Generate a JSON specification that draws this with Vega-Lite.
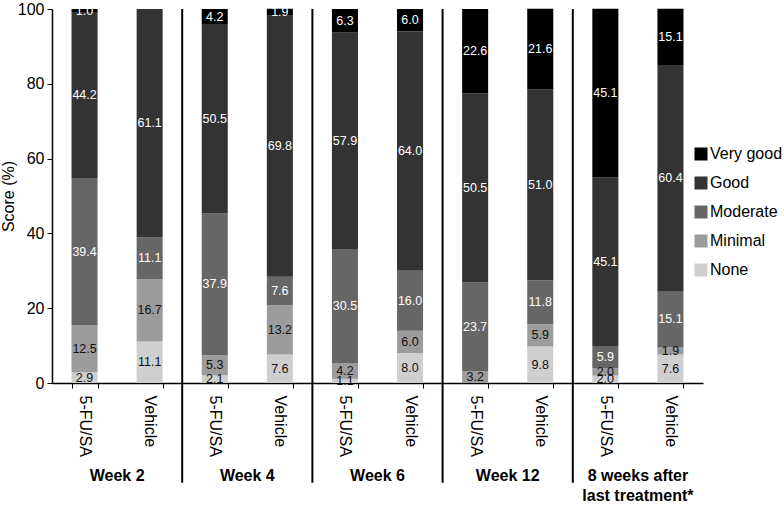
{
  "$schema": "https://vega.github.io/schema/vega-lite/v6.json",
  "width": 651,
  "height": 374,
  "autosize": {"type": "none"},
  "padding": {"left": 52, "top": 9, "right": 81, "bottom": 123},
  "config": {"font": "Liberation Sans", "view": {"stroke": null}},
  "datasets": {
    "scores": [
      {"group": "Week 2", "treat": "5-FU/SA", "cat": "None", "value": 2.9},
      {"group": "Week 2", "treat": "5-FU/SA", "cat": "Minimal", "value": 12.5},
      {"group": "Week 2", "treat": "5-FU/SA", "cat": "Moderate", "value": 39.4},
      {"group": "Week 2", "treat": "5-FU/SA", "cat": "Good", "value": 44.2},
      {"group": "Week 2", "treat": "5-FU/SA", "cat": "Very good", "value": 1.0},
      {"group": "Week 2", "treat": "Vehicle", "cat": "None", "value": 11.1},
      {"group": "Week 2", "treat": "Vehicle", "cat": "Minimal", "value": 16.7},
      {"group": "Week 2", "treat": "Vehicle", "cat": "Moderate", "value": 11.1},
      {"group": "Week 2", "treat": "Vehicle", "cat": "Good", "value": 61.1},
      {"group": "Week 4", "treat": "5-FU/SA", "cat": "None", "value": 2.1},
      {"group": "Week 4", "treat": "5-FU/SA", "cat": "Minimal", "value": 5.3},
      {"group": "Week 4", "treat": "5-FU/SA", "cat": "Moderate", "value": 37.9},
      {"group": "Week 4", "treat": "5-FU/SA", "cat": "Good", "value": 50.5},
      {"group": "Week 4", "treat": "5-FU/SA", "cat": "Very good", "value": 4.2},
      {"group": "Week 4", "treat": "Vehicle", "cat": "None", "value": 7.6},
      {"group": "Week 4", "treat": "Vehicle", "cat": "Minimal", "value": 13.2},
      {"group": "Week 4", "treat": "Vehicle", "cat": "Moderate", "value": 7.6},
      {"group": "Week 4", "treat": "Vehicle", "cat": "Good", "value": 69.8},
      {"group": "Week 4", "treat": "Vehicle", "cat": "Very good", "value": 1.9},
      {"group": "Week 6", "treat": "5-FU/SA", "cat": "None", "value": 1.1},
      {"group": "Week 6", "treat": "5-FU/SA", "cat": "Minimal", "value": 4.2},
      {"group": "Week 6", "treat": "5-FU/SA", "cat": "Moderate", "value": 30.5},
      {"group": "Week 6", "treat": "5-FU/SA", "cat": "Good", "value": 57.9},
      {"group": "Week 6", "treat": "5-FU/SA", "cat": "Very good", "value": 6.3},
      {"group": "Week 6", "treat": "Vehicle", "cat": "None", "value": 8.0},
      {"group": "Week 6", "treat": "Vehicle", "cat": "Minimal", "value": 6.0},
      {"group": "Week 6", "treat": "Vehicle", "cat": "Moderate", "value": 16.0},
      {"group": "Week 6", "treat": "Vehicle", "cat": "Good", "value": 64.0},
      {"group": "Week 6", "treat": "Vehicle", "cat": "Very good", "value": 6.0},
      {"group": "Week 12", "treat": "5-FU/SA", "cat": "Minimal", "value": 3.2},
      {"group": "Week 12", "treat": "5-FU/SA", "cat": "Moderate", "value": 23.7},
      {"group": "Week 12", "treat": "5-FU/SA", "cat": "Good", "value": 50.5},
      {"group": "Week 12", "treat": "5-FU/SA", "cat": "Very good", "value": 22.6},
      {"group": "Week 12", "treat": "Vehicle", "cat": "None", "value": 9.8},
      {"group": "Week 12", "treat": "Vehicle", "cat": "Minimal", "value": 5.9},
      {"group": "Week 12", "treat": "Vehicle", "cat": "Moderate", "value": 11.8},
      {"group": "Week 12", "treat": "Vehicle", "cat": "Good", "value": 51.0},
      {"group": "Week 12", "treat": "Vehicle", "cat": "Very good", "value": 21.6},
      {"group": "8wk", "treat": "5-FU/SA", "cat": "None", "value": 2.0},
      {"group": "8wk", "treat": "5-FU/SA", "cat": "Minimal", "value": 2.0},
      {"group": "8wk", "treat": "5-FU/SA", "cat": "Moderate", "value": 5.9},
      {"group": "8wk", "treat": "5-FU/SA", "cat": "Good", "value": 45.1},
      {"group": "8wk", "treat": "5-FU/SA", "cat": "Very good", "value": 45.1},
      {"group": "8wk", "treat": "Vehicle", "cat": "None", "value": 7.6},
      {"group": "8wk", "treat": "Vehicle", "cat": "Minimal", "value": 1.9},
      {"group": "8wk", "treat": "Vehicle", "cat": "Moderate", "value": 15.1},
      {"group": "8wk", "treat": "Vehicle", "cat": "Good", "value": 60.4},
      {"group": "8wk", "treat": "Vehicle", "cat": "Very good", "value": 15.1}
    ],
    "groups": [
      {"group": "Week 2", "label": "Week 2"},
      {"group": "Week 4", "label": "Week 4"},
      {"group": "Week 6", "label": "Week 6"},
      {"group": "Week 12", "label": "Week 12"},
      {"group": "8wk", "label": "8 weeks after\nlast treatment*"}
    ]
  },
  "layer": [
    {
      "data": {"name": "scores"},
      "transform": [
        {"calculate": "datum.group + '|' + datum.treat", "as": "bar"},
        {"calculate": "indexof(['None','Minimal','Moderate','Good','Very good'], datum.cat)", "as": "ord"}
      ],
      "layer": [
        {
          "mark": {"type": "bar"},
          "encoding": {
            "x": {
              "field": "bar",
              "type": "nominal",
              "title": null,
              "scale": {
                "domain": ["Week 2|5-FU/SA", "Week 2|Vehicle", "Week 4|5-FU/SA", "Week 4|Vehicle", "Week 6|5-FU/SA", "Week 6|Vehicle", "Week 12|5-FU/SA", "Week 12|Vehicle", "8wk|5-FU/SA", "8wk|Vehicle"],
                "paddingInner": 0.6,
                "paddingOuter": 0.3
              },
              "axis": {
                "labelExpr": "split(datum.value, '|')[1]",
                "labelAngle": 90,
                "labelFontSize": 16,
                "labelColor": "#000",
                "labelPadding": 7,
                "tickBand": "extent",
                "tickSize": 5,
                "tickColor": "#000",
                "domainColor": "#000",
                "domainWidth": 1.5,
                "grid": false
              }
            },
            "y": {
              "field": "value",
              "type": "quantitative",
              "stack": "zero",
              "title": "Score (%)",
              "scale": {"domain": [0, 100], "nice": false},
              "axis": {
                "values": [0, 20, 40, 60, 80, 100],
                "grid": false,
                "tickSize": 5,
                "tickColor": "#000",
                "domainColor": "#000",
                "domainWidth": 1.5,
                "labelFontSize": 16,
                "labelColor": "#000",
                "labelPadding": 3,
                "titleFontSize": 16,
                "titleFontWeight": "normal",
                "titleColor": "#000",
                "titlePadding": 1
              }
            },
            "order": {"field": "ord", "type": "quantitative"},
            "color": {
              "field": "cat",
              "type": "nominal",
              "scale": {
                "domain": ["Very good", "Good", "Moderate", "Minimal", "None"],
                "range": ["#000000", "#333333", "#666666", "#9c9c9c", "#cfcfcf"]
              },
              "legend": {
                "title": null,
                "orient": "none",
                "legendX": 641,
                "legendY": 137,
                "labelFontSize": 16,
                "labelColor": "#000",
                "symbolType": "square",
                "symbolSize": 169,
                "symbolStrokeWidth": 0,
                "rowPadding": 13,
                "labelOffset": 1,
                "padding": 0
              }
            }
          }
        },
        {
          "transform": [
            {"stack": "value", "groupby": ["bar"], "sort": [{"field": "ord", "order": "ascending"}], "as": ["v0", "v1"]},
            {"calculate": "(datum.v0 + datum.v1) / 2", "as": "mid"}
          ],
          "mark": {"type": "text", "fontSize": 12.5, "align": "center", "baseline": "middle"},
          "encoding": {
            "x": {"field": "bar", "type": "nominal", "title": null},
            "y": {"field": "mid", "type": "quantitative", "title": "Score (%)"},
            "text": {"field": "value", "type": "quantitative", "format": ".1f"},
            "color": {
              "condition": {"test": "datum.cat == 'Minimal' || datum.cat == 'None'", "value": "#111111"},
              "value": "#ffffff"
            }
          }
        }
      ]
    },
    {
      "data": {"name": "groups"},
      "transform": [
        {"calculate": "datum.group + '|5-FU/SA'", "as": "bar"},
        {"calculate": "datum.group + '|Vehicle'", "as": "barv"}
      ],
      "layer": [
        {
          "transform": [{"filter": "datum.group != '8wk'"}],
          "mark": {"type": "rule", "color": "#000", "strokeWidth": 2},
          "encoding": {
            "x": {"field": "barv", "type": "nominal", "bandPosition": 1.75, "title": null},
            "y": {"datum": 100, "type": "quantitative", "title": "Score (%)"},
            "y2": {"datum": -26.7}
          }
        },
        {
          "mark": {"type": "text", "fontSize": 16, "fontWeight": "bold", "align": "center", "baseline": "top", "lineBreak": "\n", "lineHeight": 20, "color": "#000"},
          "encoding": {
            "x": {"field": "bar", "type": "nominal", "bandPosition": 1.75, "title": null},
            "y": {"datum": -22.8, "type": "quantitative", "title": "Score (%)"},
            "text": {"field": "label", "type": "nominal"}
          }
        }
      ]
    }
  ]
}
